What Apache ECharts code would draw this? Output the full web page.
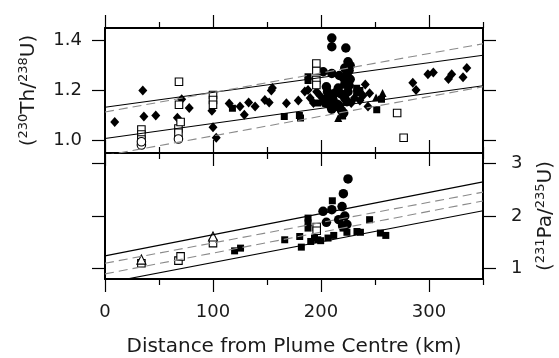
<!DOCTYPE html>
<html>
<head>
<meta charset="utf-8">
<script src="https://cdn.jsdelivr.net/npm/echarts@6/dist/echarts.min.js"></script>
<style>
  html, body { margin: 0; padding: 0; background: #fff; }
  #chart { width: 559px; height: 358px; }
</style>
</head>
<body>
<div id="chart"></div>
<script>
// tick positions
const xMajorTicks = [0, 100, 200, 300]
const xMinorTicks = [50, 150, 250, 350]
const thTicks = [1.0, 1.2, 1.4]
const paTicks = [1, 2, 3]

// top panel: (230Th/238U) against distance (km)
const thDiamond = [
  [9, 1.074], [35, 1.2], [36, 1.096], [47, 1.1], [67, 1.091], [71, 1.165], [78, 1.13],
  [99, 1.119], [100, 1.053], [103, 1.011], [115, 1.148], [125, 1.136], [129, 1.103],
  [133, 1.152], [139, 1.136], [148, 1.162], [152, 1.152], [154, 1.2], [155, 1.21],
  [168, 1.149], [179, 1.16], [185, 1.196], [188, 1.202], [190, 1.17], [193, 1.15],
  [196, 1.195], [199, 1.18], [203, 1.165], [207, 1.14], [212, 1.155], [218, 1.14],
  [228, 1.15], [231, 1.17], [236, 1.16], [239, 1.18], [241, 1.224], [243.5, 1.136],
  [245, 1.189], [285, 1.231], [288, 1.202], [299, 1.265], [304, 1.272], [318, 1.246],
  [321, 1.265], [331.5, 1.253], [335, 1.29]
]
const thCircle = [
  [210, 1.41], [210, 1.375], [223, 1.37], [225, 1.315], [227, 1.3], [222, 1.29],
  [226, 1.28], [224, 1.265], [221, 1.25], [227, 1.245], [202, 1.275], [210, 1.268],
  [217, 1.26], [205, 1.215], [216, 1.21], [222, 1.225], [226, 1.22], [206, 1.195],
  [213, 1.19], [219, 1.185], [225, 1.195], [207, 1.175], [211, 1.165], [222, 1.17],
  [204, 1.15], [209, 1.155], [215, 1.145], [224, 1.155], [210, 1.125], [219, 1.12],
  [221, 1.11], [213, 1.135]
]
const thSquare = [
  [118, 1.129], [166, 1.096], [180, 1.1], [181, 1.09], [188, 1.255], [188, 1.24],
  [197, 1.15], [203, 1.16], [214, 1.145], [220, 1.098], [233, 1.209], [233, 1.19],
  [236, 1.2], [251.6, 1.123], [256, 1.165]
]
const thTriangle = [[216, 1.09], [251, 1.172], [257, 1.19]]
const thOpenSquare = [
  [33.7, 1.044], [33.7, 1.024], [33.7, 1.004], [68, 1.048], [68, 1.031], [68.5, 1.235],
  [68.5, 1.143], [70, 1.074], [100, 1.182], [100, 1.162], [100, 1.143], [195.7, 1.308],
  [195.7, 1.278], [195.7, 1.242], [195.7, 1.222], [270.5, 1.11], [276.5, 1.011]
]
const thOpenCircle = [[33.7, 0.982], [33.7, 0.995], [68, 1.006]]

// regression lines, top panel
const thSolidUpper = [[0, 1.133], [350, 1.341]]
const thSolidLower = [[0, 1.008], [350, 1.219]]
const thDashUpper = [[0, 1.114], [350, 1.387]]
const thDashLower = [[0, 0.94], [350, 1.215]]

// bottom panel: (231Pa/235U) against distance (km)
const paSquare = [
  [120, 1.336], [125.5, 1.388], [166.4, 1.547], [180.3, 1.61], [181.8, 1.407],
  [188, 1.96], [188, 1.87], [188, 1.77], [190.5, 1.515], [194, 1.58], [197, 1.547],
  [199.7, 1.53], [206.5, 1.58], [211.8, 1.63], [210.5, 2.29], [224, 1.69], [220.4, 1.77],
  [233.3, 1.705], [236.5, 1.69], [245, 1.93], [255, 1.675], [260, 1.63]
]
const paCircle = [
  [225, 2.707], [220.7, 2.426], [201.9, 2.09], [210, 2.12], [219.5, 2.18], [205, 1.88],
  [216.4, 1.93], [222, 2.0], [220, 1.81], [224, 1.84]
]
const paOpenSquare = [[33.7, 1.1], [68, 1.15], [70, 1.23], [100, 1.484], [196, 1.79], [196, 1.72]]
const paOpenTriangle = [[33.7, 1.17], [100, 1.61]]

// regression lines, bottom panel
const paSolidUpper = [[0, 1.24], [350, 2.65]]
const paSolidLower = [[0, 0.72], [350, 2.1]]
const paDashUpper = [[0, 1.1], [350, 2.455]]
const paDashLower = [[0, 0.897], [350, 2.287]]

const FONT = 'DejaVu Sans'
const TXT = '#1a1a1a'

const chart = echarts.init(document.getElementById('chart'), null, { renderer: 'canvas' })

// one x axis: long ticks on the hundreds, short ones on the fifties
function xAxis(gridIndex, position, minor, withLabels) {
  return {
    type: 'value',
    gridIndex,
    position,
    min: 0,
    max: 350,
    interval: 50,
    splitLine: { show: false },
    axisLine: { show: !minor, onZero: false, lineStyle: { color: '#000', width: 2 } },
    axisTick: {
      show: true,
      customValues: minor ? xMinorTicks : xMajorTicks,
      length: minor ? 6 : 13,
      lineStyle: { color: '#000', width: 1.2 },
    },
    axisLabel: withLabels
      ? { show: true, customValues: xMajorTicks, margin: 24, fontSize: 18, fontFamily: FONT, color: TXT }
      : { show: false },
    name: withLabels ? 'Distance from Plume Centre (km)' : '',
    nameLocation: 'middle',
    nameGap: 58,
    nameTextStyle: { fontSize: 20, fontFamily: FONT, color: TXT },
  }
}

function yAxis(gridIndex, position, min, max, ticks, labels, name) {
  return {
    type: 'value',
    gridIndex,
    position,
    min,
    max,
    splitLine: { show: false },
    axisLine: { show: true, onZero: false, lineStyle: { color: '#000', width: 2 } },
    axisTick: { show: true, customValues: ticks, length: 13, lineStyle: { color: '#000', width: 1.2 } },
    axisLabel: labels
      ? {
          show: true,
          customValues: ticks,
          margin: position === 'left' ? 23 : 28,
          fontSize: 18,
          fontFamily: FONT,
          color: TXT,
          formatter: v => (max < 2 ? v.toFixed(1) : String(v)),
        }
      : { show: false },
    name: name || '',
    nameLocation: 'middle',
    nameRotate: 90,
    nameGap: position === 'left' ? 64 : 51,
    nameTextStyle: {
      rich: {
        a: { fontSize: 20, fontFamily: FONT, color: TXT, lineHeight: 24 },
        s: { fontSize: 13, fontFamily: FONT, color: TXT, verticalAlign: 'top' },
      },
    },
  }
}

function scatter(name, data, xi, yi, symbol, size, open) {
  return {
    name,
    type: 'scatter',
    xAxisIndex: xi,
    yAxisIndex: yi,
    data,
    symbol,
    symbolSize: size,
    itemStyle: open
      ? { color: '#fff', borderColor: '#000', borderWidth: 1.1, opacity: 1 }
      : { color: '#000', opacity: 1 },
    emphasis: { disabled: true },
  }
}

function fitLine(name, data, xi, yi, dashed) {
  return {
    name,
    type: 'line',
    xAxisIndex: xi,
    yAxisIndex: yi,
    data,
    symbol: 'none',
    clip: true,
    lineStyle: dashed
      ? { color: '#8a8a8a', width: 1.1, type: [9, 5] }
      : { color: '#000', width: 1.1 },
    emphasis: { disabled: true },
  }
}

const option = {
  backgroundColor: '#fff',
  animation: false,
  grid: [
    { left: 105, width: 378, top: 28, height: 125, outerBoundsMode: 'none' },
    { left: 105, width: 378, top: 153, height: 126, outerBoundsMode: 'none' },
  ],
  xAxis: [
    xAxis(0, 'bottom', false, false),
    xAxis(0, 'bottom', true, false),
    xAxis(0, 'top', false, false),
    xAxis(0, 'top', true, false),
    xAxis(1, 'bottom', false, true),
    xAxis(1, 'bottom', true, false),
    xAxis(1, 'top', false, false),
    xAxis(1, 'top', true, false),
  ],
  yAxis: [
    yAxis(0, 'left', 0.95, 1.45, thTicks, true, '{a|(}{s|230}{a|Th/}{s|238}{a|U)}'),
    yAxis(0, 'right', 0.95, 1.45, thTicks, false),
    yAxis(1, 'left', 0.8, 3.2, paTicks, false),
    yAxis(1, 'right', 0.8, 3.2, paTicks, true, '{a|(}{s|231}{a|Pa/}{s|235}{a|U)}'),
  ],
  series: [
    fitLine('th solid upper', thSolidUpper, 0, 0, false),
    fitLine('th solid lower', thSolidLower, 0, 0, false),
    fitLine('th dash upper', thDashUpper, 0, 0, true),
    fitLine('th dash lower', thDashLower, 0, 0, true),
    scatter('th diamond', thDiamond, 0, 0, 'diamond', [9, 10], false),
    scatter('th circle', thCircle, 0, 0, 'circle', 9.5, false),
    scatter('th square', thSquare, 0, 0, 'rect', 7, false),
    scatter('th triangle', thTriangle, 0, 0, 'triangle', 8, false),
    scatter('th open square', thOpenSquare, 0, 0, 'rect', 7.5, true),
    scatter('th open circle', thOpenCircle, 0, 0, 'circle', 8.5, true),

    fitLine('pa solid upper', paSolidUpper, 4, 3, false),
    fitLine('pa solid lower', paSolidLower, 4, 3, false),
    fitLine('pa dash upper', paDashUpper, 4, 3, true),
    fitLine('pa dash lower', paDashLower, 4, 3, true),
    scatter('pa square', paSquare, 4, 3, 'rect', 7, false),
    scatter('pa circle', paCircle, 4, 3, 'circle', 9.5, false),
    scatter('pa open square', paOpenSquare, 4, 3, 'rect', 7.5, true),
    scatter('pa open triangle', paOpenTriangle, 4, 3, 'triangle', 9, true),
  ],
}

chart.setOption(option)
</script>
</body>
</html>
